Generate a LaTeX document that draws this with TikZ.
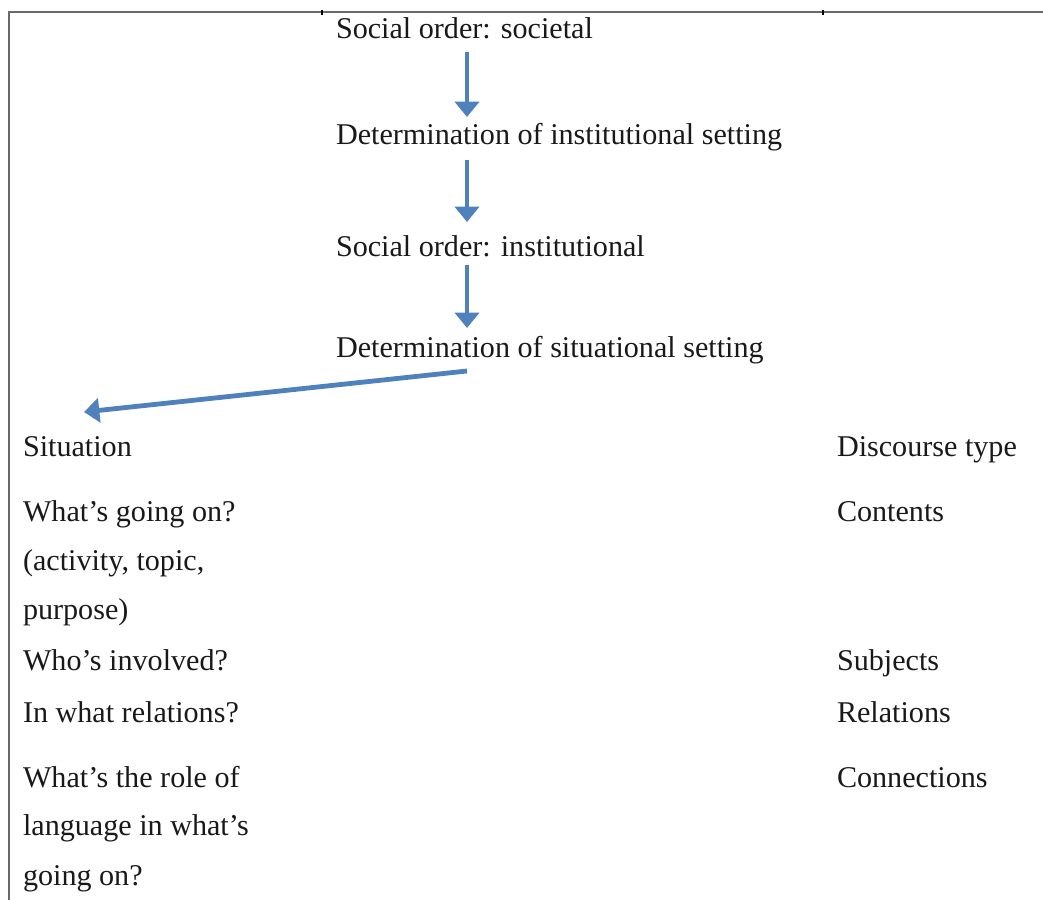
\documentclass[tikz,border=0pt]{standalone}
\usepackage{fontspec}
\setmainfont{Liberation Serif}
\usetikzlibrary{arrows.meta}
\definecolor{flowblue}{RGB}{79,129,189}
\definecolor{rulegray}{RGB}{105,105,105}
\begin{document}
\begin{tikzpicture}[x=0.75pt,y=-0.75pt,
  txt/.style={anchor=base west,inner sep=0pt,outer sep=0pt,
    font=\fontsize{22.6}{27}\selectfont,text=black!90},
  flow/.style={draw=flowblue,line width=3.6pt,
    -{Triangle[width=18pt,length=11.5pt]}},
  frame/.style={draw=rulegray,line width=1.6pt}]
\useasboundingbox (0,0) rectangle (1043,900);

% table frame
\draw[frame] (9,900) -- (9,12) -- (1043,12);
\draw[black,line width=0.9pt] (322,10) -- (322,15);
\draw[black,line width=0.9pt] (823,10) -- (823,15);

% chain of determination
\node[txt] (soc) at (336,38) {Social order: societal};
\node[txt] (detinst) at (336,144) {Determination of institutional setting};
\node[txt] (inst) at (336,256) {Social order: institutional};
\node[txt] (detsit) at (336,357) {Determination of situational setting};

\coordinate (a1s) at (467,52);  \coordinate (a1e) at (467,117);
\coordinate (a2s) at (467,160); \coordinate (a2e) at (467,222);
\coordinate (a3s) at (467,265); \coordinate (a3e) at (467,328);
\coordinate (a4s) at (467,371); \coordinate (a4e) at (84,412);
\draw[flow] (a1s) -- (a1e);
\draw[flow] (a2s) -- (a2e);
\draw[flow] (a3s) -- (a3e);
\draw[flow] (a4s) -- (a4e);

% left column
\node[txt] (sit) at (23,456) {Situation};
\node[txt] (q1) at (23,521) {What’s going on?};
\node[txt] (q1b) at (23,570) {(activity, topic,};
\node[txt] (q1c) at (23,619) {purpose)};
\node[txt] (q2) at (23,670) {Who’s involved?};
\node[txt] (q3) at (23,722) {In what relations?};
\node[txt] (q4) at (23,787) {What’s the role of};
\node[txt] (q4b) at (23,835) {language in what’s};
\node[txt] (q4c) at (23,885) {going on?};

% right column
\node[txt] (dt) at (837,456) {Discourse type};
\node[txt] (cont) at (837,521) {Contents};
\node[txt] (subj) at (837,670) {Subjects};
\node[txt] (rel) at (837,722) {Relations};
\node[txt] (conn) at (837,787) {Connections};
\end{tikzpicture}
\end{document}
